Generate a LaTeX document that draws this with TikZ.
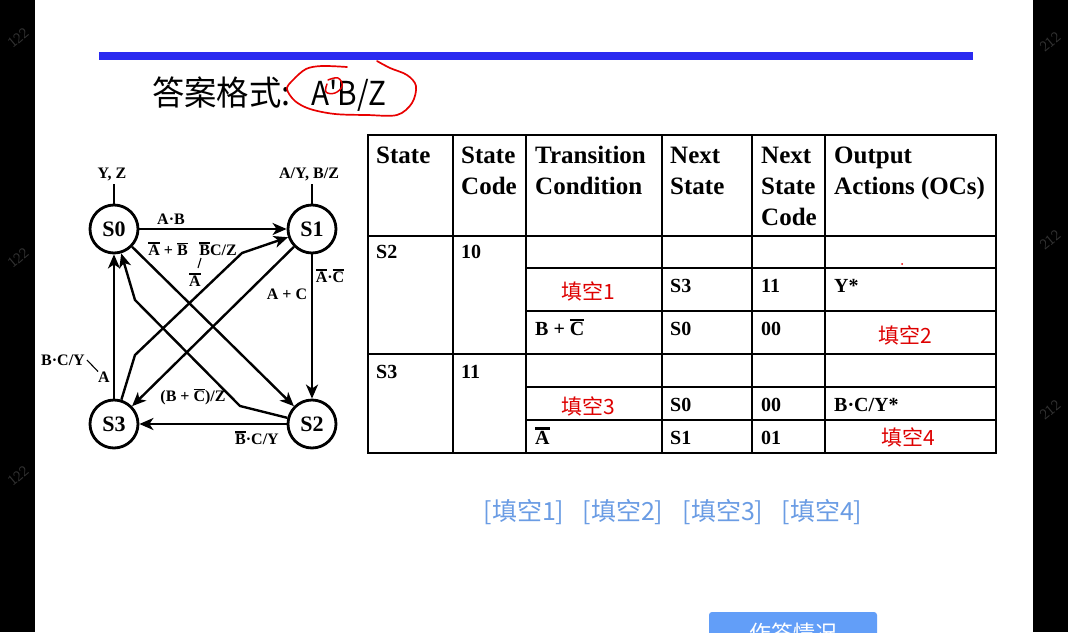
\documentclass[tikz,border=0pt]{standalone}
\usepackage{fontspec}
\setmainfont{Liberation Serif}
\newfontfamily\cjk{Noto Sans CJK SC}
\usetikzlibrary{arrows.meta}
\definecolor{barblue}{RGB}{42,42,240}
\definecolor{redtxt}{RGB}{222,0,0}
\definecolor{bluetxt}{RGB}{106,156,228}
\definecolor{btnblue}{RGB}{98,158,248}
\definecolor{wmgray}{RGB}{50,50,50}
\definecolor{inkred}{RGB}{232,0,0}
\newcommand\ovl[2][1.3pt]{\leavevmode\vbox{\hrule height #1\kern 1.2pt\hbox{#2}}}
\begin{document}
\begin{tikzpicture}[x=1pt,y=-1pt,
  state/.style={circle,draw,line width=2.8pt,minimum size=48pt,inner sep=0pt,font=\fontsize{22}{22}\selectfont\bfseries},
  lbl/.style={inner sep=0pt,font=\fontsize{16}{16}\selectfont\bfseries},
  tick/.style={line width=1.1pt},
  edge/.style={line width=2.4pt,-{Stealth[length=14pt,width=12pt,inset=4pt]}},
  hd/.style={anchor=base west,inner sep=0pt,font=\fontsize{25}{25}\selectfont\bfseries},
  bd/.style={anchor=base west,inner sep=0pt,font=\fontsize{20}{20}\selectfont\bfseries},
  blank/.style={inner sep=0pt,text=redtxt,font=\cjk\fontsize{21}{21}\selectfont},
  ans/.style={inner sep=0pt,text=bluetxt,font=\cjk\fontsize{25}{25}\selectfont},
  tframe/.style={line width=2.2pt},
  tline/.style={line width=1.4pt},
  wm/.style={inner sep=0pt,text=wmgray,font=\sffamily\fontsize{15}{15}\selectfont,rotate=40},
  ink/.style={draw=inkred,line width=1.7pt,line cap=round,line join=round}
]
\useasboundingbox (0,0) rectangle (1068,632);
% page and margins
\fill[black] (0,0) rectangle (1068,632);
\node[wm] (w1) at (18,38) {122};
\node[wm] (w2) at (18,258) {122};
\node[wm] (w3) at (18,476) {122};
\node[wm] (w4) at (1050,42) {212};
\node[wm] (w5) at (1050,240) {212};
\node[wm] (w6) at (1050,410) {212};
\fill[white] (35,0) rectangle (1033,632);
% title bar
\fill[barblue] (99,52) rectangle (973,60);
\node[anchor=base west,inner sep=0pt,xscale=0.95,font=\cjk\fontsize{34}{34}\selectfont] (fmt) at (152,105) {答案格式:};
\node[anchor=base west,inner sep=0pt,xscale=0.9,font=\cjk\fontsize{33}{33}\selectfont] (ex) at (311,105) {A\textquotesingle B/Z};
\draw[ink] plot[smooth,tension=0.55] coordinates {(347,67) (322,66) (306,69) (293,80) (287,89) (295,101) (310,109) (335,114) (367,115) (397,115) (412,103) (416,86) (407,75) (390,68) (377,61)};
\draw[ink,line width=1.5pt] plot[smooth,tension=0.7] coordinates {(328,80) (338,78) (342,86) (335,93) (326,92) (327,84)};
\fill[inkred] (902,264) circle (1pt);
% ---------- state diagram ----------
\node[state] (S0) at (114,229) {S0};
\node[state] (S1) at (312,229) {S1};
\node[state] (S2) at (312,424) {S2};
\node[state] (S3) at (114,424) {S3};
\node[lbl] (lYZ) at (112,174) {Y, Z};
\node[lbl] (lAYBZ) at (309,174) {A/Y, B/Z};
\draw[tick] (S0.north) -- ++(0,-20);
\draw[tick] (S1.north) -- ++(0,-20);
\coordinate (b1) at (135,355);
\coordinate (b2) at (242,253);
\coordinate (c1) at (240,406);
\coordinate (c2) at (135,300);
\draw[edge] (S0) -- (S1);
\draw[edge] (S1) -- (S2);
\draw[edge] (S2) -- (S3);
\draw[edge] (S3) -- (S0);
\draw[edge] (S0) -- (S2);
\draw[edge] (S1) -- (S3);
\draw[edge] (S3) -- (b1) -- (b2) -- (S1);
\draw[edge] (S2) -- (c1) -- (c2) -- (S0);
\node[lbl] (lAB) at (171,219) {A·B};
\node[lbl] (lAoB) at (168,249) {\ovl{A} + \ovl{B}};
\node[lbl] (lBCZ) at (218,249) {\ovl{B}C/Z};
\node[lbl] (lAn) at (195,280) {\ovl{A}};
\draw[tick] (201,258) -- (198,268);
\node[lbl] (lAC) at (330,276) {\ovl{A}·\ovl{C}};
\node[lbl] (lApC) at (287,294) {A + C};
\node[lbl] (lBCY) at (63,360) {B·C/Y};
\node[lbl] (lA) at (104,377) {A};
\draw[tick] (lBCY.east) ++(2,0) -- (lA.north west);
\node[lbl] (lBpC) at (193,397) {(B + \ovl{C})/Z};
\node[lbl] (lBbCY) at (257,438) {\ovl{B}·C/Y};
% ---------- table ----------
\draw[tframe] (368,135) rectangle (996,453);
\foreach \xx in {453,526,662,752,825} \draw[tline] (\xx,135) -- (\xx,453);
\draw[tline] (368,236) -- (996,236);
\draw[tline] (368,354) -- (996,354);
\foreach \yy in {268,311,387,420} \draw[tline] (526,\yy) -- (996,\yy);
% header
\node[hd] (h1) at (376,163) {State};
\node[hd] (h2a) at (461,163) {State};
\node[hd] (h2b) at (461,194) {Code};
\node[hd] (h3a) at (535,163) {Transition};
\node[hd] (h3b) at (535,194) {Condition};
\node[hd] (h4a) at (670,163) {Next};
\node[hd] (h4b) at (670,194) {State};
\node[hd] (h5a) at (761,163) {Next};
\node[hd] (h5b) at (761,194) {State};
\node[hd] (h5c) at (761,225) {Code};
\node[hd] (h6a) at (834,163) {Output};
\node[hd] (h6b) at (834,194) {Actions (OCs)};
% body
\node[bd] (r1a) at (376,258) {S2};
\node[bd] (r1b) at (461,258) {10};
\node[bd] (r2d) at (670,292) {S3};
\node[bd] (r2e) at (761,292) {11};
\node[bd] (r2f) at (834,292) {Y*};
\node[bd] (r3c) at (535,335) {B + \ovl[1.8pt]{C}};
\node[bd] (r3d) at (670,335) {S0};
\node[bd] (r3e) at (761,335) {00};
\node[bd] (r4a) at (376,378) {S3};
\node[bd] (r4b) at (461,378) {11};
\node[bd] (r5d) at (670,411) {S0};
\node[bd] (r5e) at (761,411) {00};
\node[bd] (r5f) at (834,411) {B·C/Y*};
\node[bd] (r6c) at (535,444) {\ovl[2.6pt]{A}};
\node[bd] (r6d) at (670,444) {S1};
\node[bd] (r6e) at (761,444) {01};
\node[blank] (k1) at (588,291) {填空1};
\node[blank] (k2) at (905,335) {填空2};
\node[blank] (k3) at (588,406) {填空3};
\node[blank] (k4) at (908,437) {填空4};
% answer slots
\node[ans] (a1) at (524,512) {[填空1]};
\node[ans] (a2) at (623,512) {[填空2]};
\node[ans] (a3) at (723,512) {[填空3]};
\node[ans] (a4) at (822,512) {[填空4]};
% button
\begin{scope}
\clip (0,0) rectangle (1068,632);
\fill[btnblue,rounded corners=3pt] (709,612) rectangle (877,650);
\node[inner sep=0pt,text=white,font=\cjk\fontsize{22}{22}\selectfont] (btn) at (793,633) {作答情况};
\end{scope}
\end{tikzpicture}
\end{document}
